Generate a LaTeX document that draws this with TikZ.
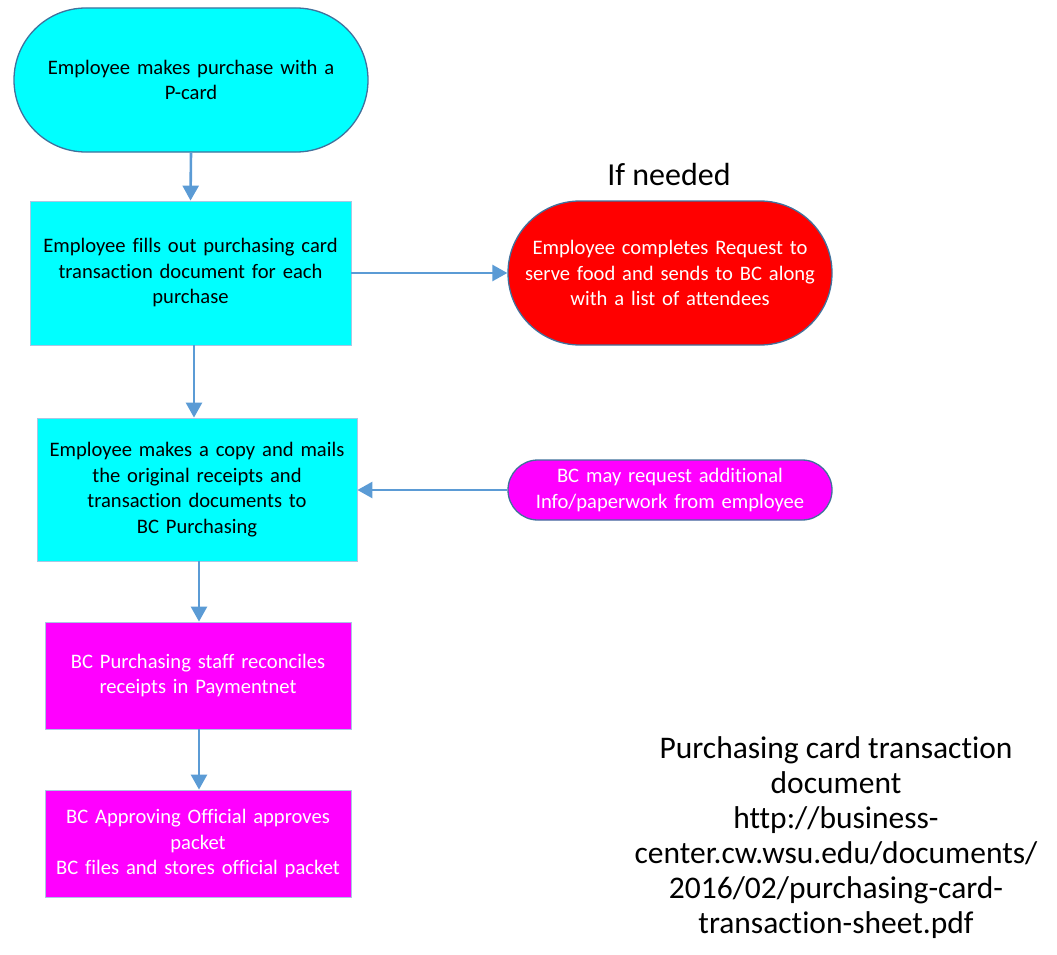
\documentclass[tikz,border=0pt]{standalone}
\usepackage{fontspec}
\setmainfont{Carlito}[Ligatures=NoCommon]
\usetikzlibrary{arrows.meta}
\definecolor{pillborder}{HTML}{41719C}
\definecolor{boxborder}{HTML}{A9C6E3}
\definecolor{arrowblue}{HTML}{5B9BD5}
\definecolor{mag}{HTML}{FF00FF}
\definecolor{aqua}{HTML}{00FFFF}
\definecolor{pure red}{HTML}{FF0000}
\tikzset{
  x=1pt, y=-1pt,
  base/.style={inner sep=0pt, align=center, font=\fontsize{20.6}{25.5}\selectfont},
  pill/.style={base, draw=pillborder, line width=1.3pt},
  boxnode/.style={base, draw=boxborder, line width=0.8pt},
  arr/.style={draw=arrowblue, line width=2.6pt, -{Triangle[length=15pt,width=16pt]}},
}
\begin{document}
\begin{tikzpicture}
\useasboundingbox (0,0) rectangle (1057,955);
\node[pill, fill=aqua, minimum width=354pt, minimum height=144pt, rounded corners=71.9pt, text width=330pt] (p1) at (191,80) {Employee makes purchase with a\\P-card};
\node[boxnode, fill=aqua, minimum width=321pt, minimum height=144pt, text width=315pt] (b2) at (190.5,273) {Employee fills out purchasing card\\transaction document for each\\purchase};
\node[pill, fill=pure red, text=white, minimum width=324pt, minimum height=144pt, rounded corners=71.9pt, text width=315pt] (r) at (670,273) {Employee completes Request to\\serve food and sends to BC along\\with a list of attendees};
\node[font=\fontsize{32}{36}\selectfont, inner sep=0pt] (ifn) at (669,174) {If needed};
\node[boxnode, fill=aqua, minimum width=320pt, minimum height=143pt, text width=315pt] (b3) at (197,489.5) {Employee makes a copy and mails\\the original receipts and\\transaction documents to\\BC Purchasing};
\node[pill, fill=mag, text=white, minimum width=324pt, minimum height=60pt, rounded corners=29.9pt, text width=315pt] (m) at (670,490) {BC may request additional\\Info/paperwork from employee};
\node[boxnode, fill=mag, text=white, minimum width=306pt, minimum height=107pt, text width=300pt] (b4) at (198,675.5) {BC Purchasing staff reconciles\\receipts in Paymentnet};
\node[boxnode, fill=mag, text=white, minimum width=306pt, minimum height=107pt, text width=300pt] (b5) at (198,843.5) {BC Approving Official approves\\packet\\BC files and stores official packet};
\node[inner sep=0pt, align=center, font=\fontsize{31.5}{35}\selectfont] (note) at (836,838) {Purchasing card transaction\\document\\http://business-\\center.cw.wsu.edu/documents/\\2016/02/purchasing-card-\\transaction-sheet.pdf};
\draw[arr] (p1.south) -- (b2.north);
\draw[arr] (b2.east) -- (r.west);
\draw[arr] ([xshift=3.5pt]b2.south) -- ([xshift=-3pt]b3.north);
\draw[arr] (m.west) -- (m.west -| b3.east);
\draw[arr] ([xshift=2pt]b3.south) -- ([xshift=1pt]b4.north);
\draw[arr] ([xshift=1pt]b4.south) -- ([xshift=1pt]b5.north);
\end{tikzpicture}
\end{document}
